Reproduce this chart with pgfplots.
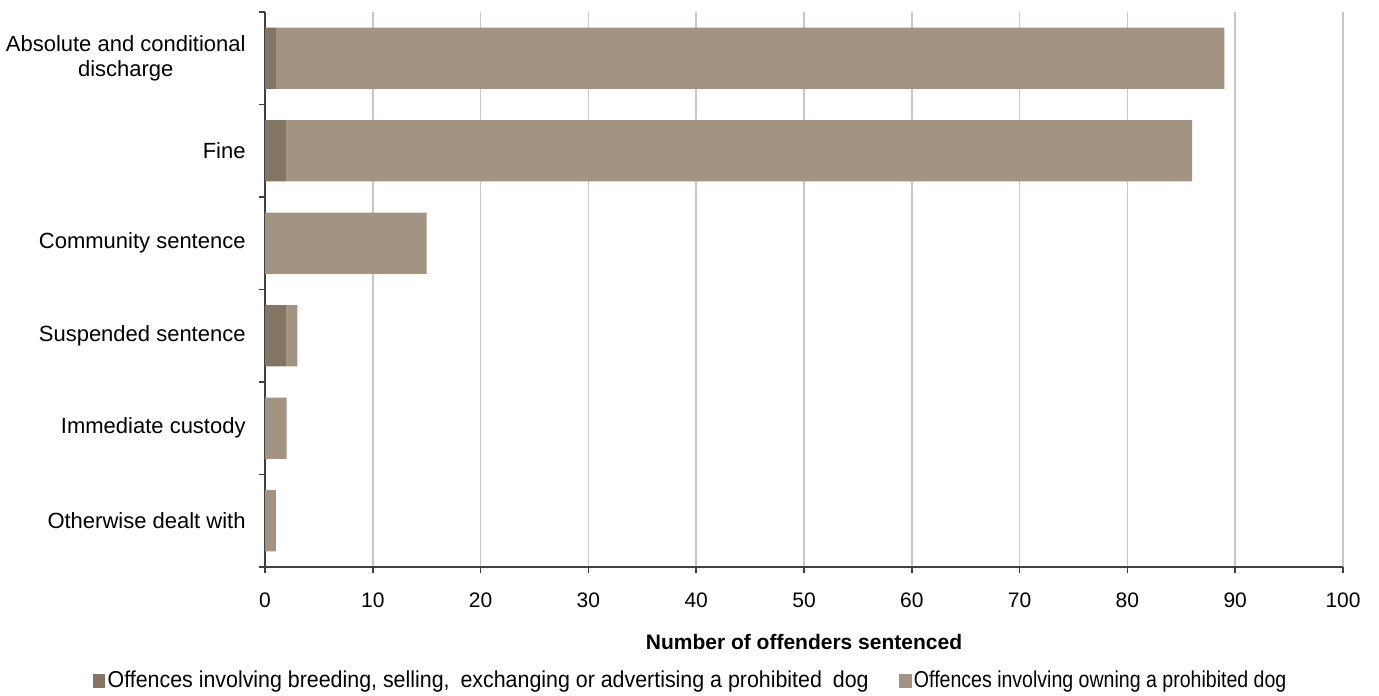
\documentclass[border=0pt]{standalone}
\usepackage{pgfplots}
\pgfplotsset{compat=1.18}
\usepackage{fontspec}
\setmainfont{Liberation Sans}
\newfontfamily\narrowfont[FakeStretch=0.85]{Liberation Sans}
\newfontfamily\narrowA[FakeStretch=0.93]{Liberation Sans}
\definecolor{darkb}{HTML}{847563}
\definecolor{lightb}{HTML}{A39382}
\definecolor{axcol}{HTML}{404040}
\begin{document}
\begin{tikzpicture}[x=1pt,y=1pt]
\useasboundingbox (0,0) rectangle (689.5,347.5);
\begin{axis}[
  at={(132.5pt,64pt)}, anchor=south west,
  scale only axis, width=539pt, height=277.5pt,
  xbar stacked, bar width=0.66,
  xmin=0, xmax=100, xtick={0,10,...,100},
  ymin=-0.5, ymax=5.5,
  ytick={0,...,5},
  yticklabels={Otherwise dealt with,Immediate custody,Suspended sentence,Community sentence,Fine,{Absolute and conditional\\discharge}},
  minor ytick={-0.5,0.5,...,5.5},
  axis x line*=bottom, axis y line*=left,
  axis line style={axcol, line width=0.8pt},
  tick align=outside,
  major tick length=3pt, minor tick length=3pt,
  major y tick style={draw=none},
  minor y tick style={axcol, line width=0.8pt},
  major x tick style={axcol, line width=0.8pt},
  xmajorgrids, major x grid style={color=black!22, line width=0.75pt},
  /pgf/number format/assume math mode=true,
  xticklabel style={font=\fontsize{10.5}{12.6}\selectfont, inner sep=0pt, anchor=north, yshift=-9.5pt},
  yticklabel style={font=\fontsize{11}{12.8}\selectfont, align=center, inner sep=0pt, anchor=east, xshift=-6.5pt},
  xlabel={Number of offenders sentenced},
  xlabel style={font=\fontsize{10.5}{12.6}\selectfont\bfseries, at={(0.5,-0.135)}, anchor=center},
  legend style={at={(0.395,-0.205)}, anchor=center, draw=none, legend columns=2,
    font=\narrowfont\fontsize{11.5}{13.8}\selectfont,
    /tikz/every even column/.append style={column sep=14pt},
    nodes={inner sep=1.2pt},
    inner sep=0pt},
  legend image code/.code={\fill[#1] (0pt,-3.6pt) rectangle (6.2pt,3.6pt);},
]
\addplot[fill=darkb, draw=none] coordinates {(1,5) (2,4) (0,3) (2,2) (0,1) (0,0)};
\addplot[fill=lightb, draw=none] coordinates {(88,5) (84,4) (15,3) (1,2) (2,1) (1,0)};
\legend{{\narrowA Offences involving breeding, selling,\hspace{2.5pt} exchanging or advertising a prohibited\hspace{2.5pt} dog}, {Offences involving owning a prohibited dog}}
\end{axis}
\end{tikzpicture}
\end{document}
